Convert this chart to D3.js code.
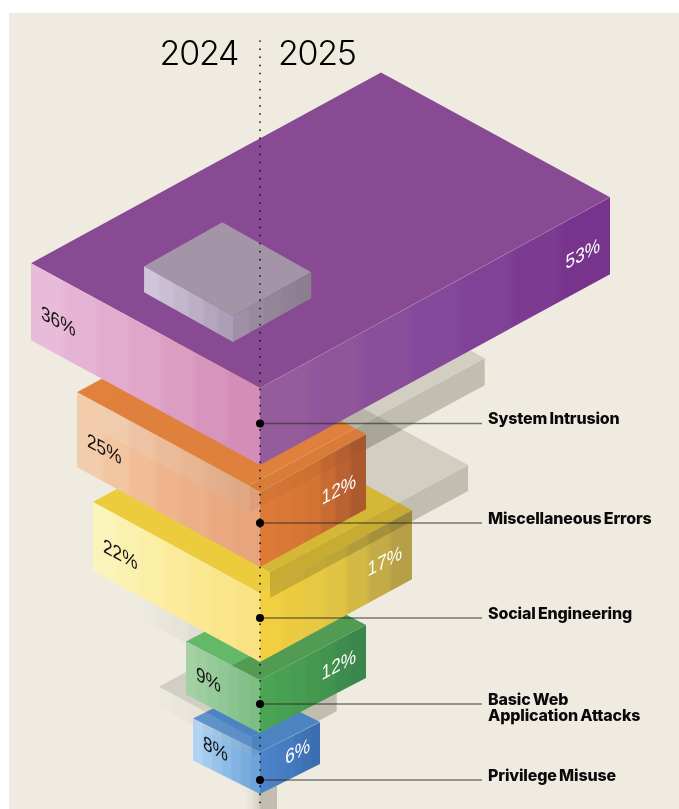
<!DOCTYPE html>
<html>
<head>
<meta charset="utf-8">
<script src="https://cdn.jsdelivr.net/npm/d3@7"></script>
<style>
html,body{margin:0;padding:0;background:#fff}
svg{display:block}
</style>
</head>
<body>
<svg id="chart" width="679" height="809"></svg>
<script>
// Share of breaches by pattern, by report year
const categories = ["System Intrusion", "Miscellaneous Errors", "Social Engineering", "Basic Web Application Attacks", "Privilege Misuse"];
const share2024 = [36, 25, 22, 9, 8];
const share2025 = [53, 12, 17, 12, 6];
const labelLines = [["System Intrusion"], ["Miscellaneous Errors"], ["Social Engineering"], ["Basic Web", "Application Attacks"], ["Privilege Misuse"]];
const years = ["2024", "2025"];

// Neutral slabs behind the coloured ones
const slabIds = ["a", "b", "c", "d", "stem"];
const slabLeft = [16.6, 14.6, 10.4, 10.8, 1.5];
const slabRight = [36.8, 28.6, 11.4, 10, 1.7];
// Raised block resting on the top slab, and the shaded patch on the green top
const blockLeft = 10.4, blockRight = 9.4;
const patchLeft = 2.8, patchRight = 12;

const W = 679, H = 809;
const svg = d3.select("#chart");
const defs = svg.append("defs");

// Percent to on-screen run of a slab edge
const run = d3.scaleLinear()
  .domain([0, 6, 8, 9, 12, 17, 22, 25, 36, 53])
  .range([0, 60, 67, 74, 106, 152, 167, 183, 229, 350]);

const axisX = d3.scalePoint().domain(years).range([260, 260]);
const X0 = axisX("2024");

const apexY = d3.scaleOrdinal().domain(categories).range([388, 492, 593, 680, 752]);
const depth = d3.scaleOrdinal().domain(categories).range([77, 75, 69, 53, 42]);
const slope = d3.scaleOrdinal().domain(categories).range([0.545, 0.545, 0.545, 0.52, 0.5]);
const dotY = d3.scaleOrdinal().domain(categories).range([423.5, 523, 618, 704, 780]);

const slabX = d3.scaleOrdinal().domain(slabIds).range([250, 270, 232, 252, 260]);
const slabY = d3.scaleOrdinal().domain(slabIds).range([485, 572, 646, 737, 760]);
const slabH = d3.scaleOrdinal().domain(slabIds).range([27, 26, 22, 20, 200]);

const palette = {
  "System Intrusion": {top: "#874a93", left: ["#e8bbd9", "#e0a5c9", "#d38db8"], right: ["#955c9c", "#84499a", "#78338d"], ridge: "rgba(255,255,255,.14)"},
  "Miscellaneous Errors": {top: "#e1813c", left: ["#f3cdab", "#efb48c", "#e8a47c"], right: ["#dd7a38", "#d47434", "#ad592f"], ridge: "rgba(255,255,255,.12)"},
  "Social Engineering": {top: "#eccb3c", left: ["#fbf4ba", "#fbeb9a", "#f9e283"], right: ["#f2cf40", "#e0c443", "#b5a048"], ridge: "rgba(255,255,255,.1)"},
  "Basic Web Application Attacks": {top: "#63b968", left: ["#a5d0a3", "#90c796", "#7ebd84"], right: ["#4aa454", "#45994f", "#3a864c"], ridge: "rgba(255,255,255,.1)"},
  "Privilege Misuse": {top: "#4f89cb", left: ["#aed3f3", "#8cbbe6", "#6ea4d9"], right: ["#4c82c6", "#457bc0", "#3a6db0"], ridge: "rgba(255,255,255,.15)"}
};

const polygon = pts => d3.line()(pts) + "Z";

// Softly stepped horizontal gradient, giving faces their vertical striping
let gradId = 0;
function stripes(x0, x1, colors, bands = 7) {
  const id = "g" + (gradId++);
  const g = defs.append("linearGradient").attr("id", id)
    .attr("gradientUnits", "userSpaceOnUse")
    .attr("x1", x0).attr("x2", x1).attr("y1", 0).attr("y2", 0);
  const ramp = d3.scaleLinear().domain([0, 0.5, 1]).range(colors).interpolate(d3.interpolateLab);
  d3.range(bands).forEach(i => {
    const c = ramp(i / (bands - 1));
    g.append("stop").attr("offset", (i + 0.12) / bands).attr("stop-color", c);
    g.append("stop").attr("offset", (i + 0.88) / bands).attr("stop-color", c);
  });
  return `url(#${id})`;
}

function corners(x, y, h, runL, runR, k) {
  const L = [x - runL, y - runL * k];
  const R = [x + runR, y - runR * k];
  const B = [x - runL + runR, y - (runL + runR) * k];
  const F = [x, y];
  const down = p => [p[0], p[1] + h];
  return {L, R, B, F, Ld: down(L), Rd: down(R), Fd: down(F)};
}

const slabCorners = (cat, i) => corners(X0, apexY(cat), depth(cat), run(share2024[i]), run(share2025[i]), slope(cat));

// Coloured slab for one category
function drawSlab(cat, i, layer) {
  const p = palette[cat];
  const c = slabCorners(cat, i);
  const g = layer.append("g").attr("class", "slab");
  g.append("path").attr("d", polygon([c.L, c.B, c.R, c.F])).attr("fill", p.top);
  g.append("path").attr("d", polygon([c.L, c.F, c.Fd, c.Ld])).attr("fill", stripes(c.L[0], c.F[0], p.left));
  g.append("path").attr("d", polygon([c.F, c.R, c.Rd, c.Fd])).attr("fill", stripes(c.F[0], c.R[0], p.right));
  g.append("path").attr("d", d3.line()([c.F, c.R])).attr("fill", "none").attr("stroke", p.ridge).attr("stroke-width", 1);
}

// Neutral translucent slab. `clip` restricts it to a shape it shows through;
// the strengths scale how much each face tints what lies underneath.
function drawNeutral(id, layer, {clip = null, top = 1, left = 1, right = 1, ridge = 0.16} = {}) {
  const i = slabIds.indexOf(id);
  const c = corners(slabX(id), slabY(id), slabH(id), run(slabLeft[i]), run(slabRight[i]), 0.54);
  const add = sel => clip ? sel.attr("clip-path", `url(#${clip})`) : sel;
  add(layer.append("path")).attr("d", polygon([c.L, c.B, c.R, c.F]))
    .attr("fill", "#e0e0dc").attr("fill-opacity", top).style("mix-blend-mode", "multiply");
  const lg = stripes(c.L[0], c.F[0], ["#e9e6dc", "#dcd8cc", "#bdb7a8"], 6);
  add(layer.append("path")).attr("d", polygon([c.L, c.F, c.Fd, c.Ld]))
    .attr("fill", lg).attr("fill-opacity", 0.5 * left);
  add(layer.append("path")).attr("d", polygon([c.F, c.R, c.Rd, c.Fd]))
    .attr("fill", "#cecdc6").attr("fill-opacity", right).style("mix-blend-mode", "multiply");
  add(layer.append("path")).attr("d", d3.line()([c.F, c.R])).attr("fill", "none")
    .attr("stroke", `rgba(255,255,255,${ridge})`).attr("stroke-width", 1);
}

function makeClip(id, pts) {
  defs.append("clipPath").attr("id", id).append("path").attr("d", polygon(pts));
  return id;
}

// Page and panel
svg.append("rect").attr("x", 9).attr("y", 13).attr("width", W - 9).attr("height", H - 13).attr("fill", "#efebe1");

const scene = svg.append("g");
const [sys, misc, soc, web, priv] = categories;

// Neutral slabs on the panel first
["stem", "d", "c", "b", "a"].forEach(id => drawNeutral(id, scene));

// Coloured stack from the bottom up, each tinted by the slab seen through it
drawSlab(priv, 4, scene);
{
  const c = slabCorners(priv, 4);
  makeClip("in-priv", [c.L, c.B, c.R, c.Rd, c.Fd, c.Ld]);
  drawNeutral("d", scene, {clip: "in-priv", top: 0.35, left: 0.25, right: 0.2, ridge: 0.1});
}
drawSlab(web, 3, scene);
{
  const c = corners(X0, apexY(web), 0, run(patchLeft), run(patchRight), slope(web));
  scene.append("path").attr("d", polygon([c.L, c.B, c.R, c.F]))
    .attr("fill", "#d0d6cc").style("mix-blend-mode", "multiply");
}
drawSlab(soc, 2, scene);
{
  // only the right-hand half of the yellow slab lets the neutral one through
  const c = slabCorners(soc, 2);
  const k = slope(soc);
  const onBack = [X0, c.L[1] - (X0 - c.L[0]) * k];
  makeClip("in-soc", [onBack, c.B, c.R, c.Rd, c.Fd, c.F]);
  drawNeutral("b", scene, {clip: "in-soc", top: 0.8, left: 0, right: 0.8, ridge: 0.12});
}
drawSlab(misc, 1, scene);
{
  const c = slabCorners(misc, 1);
  makeClip("in-misc", [c.L, c.B, c.R, c.Rd, c.Fd, c.Ld]);
  drawNeutral("a", scene, {clip: "in-misc", top: 0.05, left: 0.4, right: 0.18, ridge: 0.2});
}
drawSlab(sys, 0, scene);

// Raised block on the top slab
{
  const c = corners(233, 316, 26, run(blockLeft), run(blockRight), 0.56);
  const g = scene.append("g");
  g.append("path").attr("d", polygon([c.L, c.B, c.R, c.F])).attr("fill", "#a494a8");
  g.append("path").attr("d", polygon([c.L, c.F, c.Fd, c.Ld])).attr("fill", stripes(c.L[0], c.F[0], ["#d0c5da", "#c0b3c9", "#ab9eb6"], 6));
  g.append("path").attr("d", polygon([c.F, c.R, c.Rd, c.Fd])).attr("fill", stripes(c.F[0], c.R[0], ["#9f90a6", "#948699", "#8b7e8f"], 5));
}

// Central axis
svg.append("line").attr("x1", X0).attr("x2", X0).attr("y1", 41).attr("y2", H)
  .attr("stroke", "#111").attr("stroke-width", 1.7).attr("stroke-linecap", "round")
  .attr("stroke-dasharray", "0.1 8");

// Year headings
const yearAnchor = d3.scaleOrdinal().domain(years).range(["end", "start"]);
const yearX = d3.scaleOrdinal().domain(years).range([238, 278]);
svg.selectAll("text.year").data(years).join("text").attr("class", "year")
  .attr("x", d => yearX(d)).attr("y", 65).attr("text-anchor", d => yearAnchor(d))
  .attr("font-family", "Inter").attr("font-weight", 300).attr("font-size", 34).attr("letter-spacing", -1.3).attr("fill", "#000")
  .text(d => d);

// Sheared percentage labels on the front faces
const pctFont = "Liberation Sans";
categories.forEach((cat, i) => {
  const h = depth(cat), k = slope(cat), y = apexY(cat);
  const rl = run(share2024[i]), rr = run(share2025[i]);
  svg.append("text")
    .attr("transform", `matrix(0.86,0.46,0,1,${X0 - rl + 10},${y - rl * k + 0.72 * h})`)
    .attr("font-family", pctFont).attr("font-size", 20).attr("fill", "#141414")
    .text(share2024[i] + "%");
  svg.append("text")
    .attr("transform", `matrix(0.86,-0.46,0,1,${X0 + rr - 10},${y - rr * k + 0.7 * h})`)
    .attr("text-anchor", "end")
    .attr("font-family", pctFont).attr("font-size", 20).attr("fill", "#fff")
    .text(share2025[i] + "%");
});

// Leader lines and category names
categories.forEach((cat, i) => {
  const y = dotY(cat);
  svg.append("line").attr("x1", X0).attr("x2", 482).attr("y1", y).attr("y2", y)
    .attr("stroke", "#2b2b26").attr("stroke-opacity", 0.62).attr("stroke-width", 1.5);
  svg.append("circle").attr("cx", X0).attr("cy", y).attr("r", 4).attr("fill", "#000");
  const t = svg.append("text").attr("x", 488).attr("y", y + 0.5)
    .attr("font-family", "Inter").attr("font-weight", 800).attr("font-size", 16)
    .attr("letter-spacing", -0.15).attr("word-spacing", -1).attr("fill", "#0a0a0a");
  labelLines[i].forEach((line, j) => {
    t.append("tspan").attr("x", 488).attr("dy", j ? 16 : 0).text(line);
  });
});
</script>
</body>
</html>
